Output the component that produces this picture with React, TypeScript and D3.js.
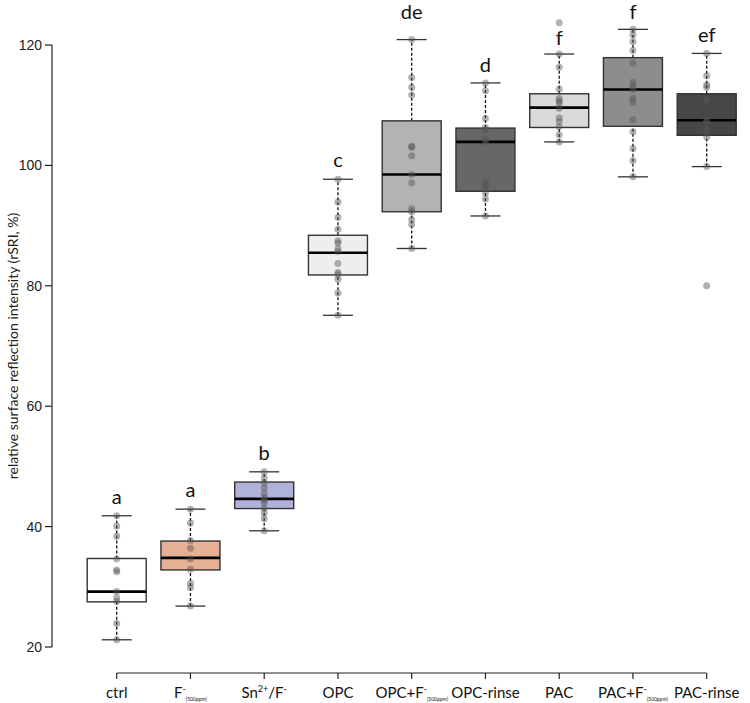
import React from "react";
import * as d3 from "d3";

const categories = ["ctrl", "F500", "Sn", "OPC", "OPC+F", "OPC-rinse", "PAC", "PAC+F", "PAC-rinse"];
const fills = ["#ffffff", "#e6b094", "#b1b2d9", "#eeeeee", "#b3b3b3", "#676767", "#d9d9d9", "#8d8d8d", "#474747"];
const letters = ["a", "a", "b", "c", "de", "d", "f", "f", "ef"];
const letterValues = [43.8, 44.9, 51.1, 99.7, 124.3, 115.5, 120.0, 124.3, 120.5];
const whiskerLow = [21.2, 26.8, 39.3, 75.1, 86.2, 91.6, 103.9, 98.1, 99.8];
const q1 = [27.5, 32.8, 43.0, 81.8, 92.3, 95.7, 106.3, 106.5, 105.0];
const medians = [29.2, 34.8, 44.6, 85.5, 98.5, 103.9, 109.6, 112.6, 107.5];
const q3 = [34.7, 37.6, 47.4, 88.4, 107.4, 106.2, 111.9, 117.9, 111.9];
const whiskerHigh = [41.8, 42.9, 49.1, 97.7, 120.9, 113.7, 118.5, 122.6, 118.6];
const points: number[][] = [
  [41.8, 40.1, 38.4, 34.6, 32.8, 32.5, 29.2, 28.2, 27.6, 23.9, 21.2],
  [42.9, 40.6, 37.7, 36.4, 34.6, 32.9, 30.6, 29.9, 26.8],
  [49.1, 48.1, 47.3, 46.4, 45.5, 44.8, 44.4, 43.9, 43.0, 42.2, 41.3, 39.3],
  [97.7, 93.9, 91.4, 89.4, 87.5, 87.1, 86.2, 85.7, 83.7, 82.2, 81.9, 81.1, 78.8, 75.1],
  [120.9, 114.6, 113.0, 111.7, 103.2, 103.0, 101.6, 98.5, 97.1, 92.8, 92.3, 91.0, 90.2, 86.2],
  [113.7, 112.4, 107.8, 106.3, 105.9, 104.3, 103.9, 97.4, 96.9, 96.4, 95.4, 94.4, 91.6],
  [123.7, 118.5, 116.3, 112.7, 111.1, 110.7, 110.3, 109.5, 107.9, 107.3, 106.4, 105.1, 103.9],
  [122.6, 121.7, 120.6, 119.1, 117.0, 113.8, 113.2, 112.6, 111.1, 110.5, 107.6, 105.6, 102.8, 100.8, 98.1],
  [118.6, 114.9, 113.4, 113.0, 111.0, 110.6, 107.5, 107.3, 106.0, 105.6, 104.7, 99.8, 80.0],
];
const yTicks = [20, 40, 60, 80, 100, 120];

const W = 750, H = 703;
const font = "Lato, 'Open Sans', sans-serif";

function XLabel({ cat, x, y }: { cat: string; x: number; y: number }) {
  const common = { x, y, textAnchor: "middle" as const, fontFamily: font, fontSize: 15, fill: "#111" };
  const sup = { fontSize: 9, baselineShift: "6" } as any;
  const sub = { fontSize: 5, baselineShift: "-3" } as any;
  if (cat === "F500")
    return (
      <text {...common}>
        F<tspan {...sup}>-</tspan><tspan {...sub}>(500ppm)</tspan>
      </text>
    );
  if (cat === "Sn")
    return (
      <text {...common}>
        Sn<tspan {...sup}>2+</tspan><tspan>/F</tspan><tspan {...sup}>-</tspan>
      </text>
    );
  if (cat === "OPC+F" || cat === "PAC+F")
    return (
      <text {...common}>
        {cat.slice(0, 5)}<tspan {...sup}>-</tspan><tspan {...sub}>(500ppm)</tspan>
      </text>
    );
  return <text {...common}>{cat}</text>;
}

export default function App() {
  const y = d3.scaleLinear().domain([20, 120]).range([647, 45]);
  const x = d3.scalePoint<string>().domain(categories).range([116.7, 706.7]);
  const step = x.step();
  const bw = step * 0.8;
  const capW = 30;
  const axisX = 52;
  const axisY = 673;

  return (
    <svg width={W} height={H} style={{ position: "absolute", left: 0, top: 0, background: "#fff" }}>
      {/* y axis */}
      <line x1={axisX} x2={axisX} y1={y(20)} y2={y(120)} stroke="#222" strokeWidth={1.2} />
      {yTicks.map((t) => (
        <g key={t}>
          <line x1={axisX - 7} x2={axisX} y1={y(t)} y2={y(t)} stroke="#222" strokeWidth={1.2} />
          <text x={axisX - 10} y={y(t)} dy="0.35em" textAnchor="end" fontFamily="'Liberation Sans', Arial, sans-serif" fontSize={14} fill="#222">
            {t}
          </text>
        </g>
      ))}
      <text
        transform={`translate(13,${(y(20) + y(120)) / 2}) rotate(-90)`}
        textAnchor="middle"
        dy="0.35em"
        fontFamily={font}
        fontSize={14}
        fill="#222"
      >
        relative surface reflection intensity (rSRI, %)
      </text>

      {/* x axis */}
      <line x1={x(categories[0])!} x2={x(categories[categories.length - 1])!} y1={axisY} y2={axisY} stroke="#222" strokeWidth={1.2} />
      {categories.map((c) => (
        <g key={c}>
          <line x1={x(c)!} x2={x(c)!} y1={axisY} y2={axisY + 6} stroke="#222" strokeWidth={1.2} />
          <XLabel cat={c} x={x(c)!} y={698} />
        </g>
      ))}

      {/* boxes */}
      {categories.map((c, i) => {
        const cx = x(c)!;
        return (
          <g key={c}>
            <line x1={cx} x2={cx} y1={y(whiskerLow[i])} y2={y(q1[i])} stroke="#111" strokeWidth={1.3} strokeDasharray="3,2" />
            <line x1={cx} x2={cx} y1={y(q3[i])} y2={y(whiskerHigh[i])} stroke="#111" strokeWidth={1.3} strokeDasharray="3,2" />
            <line x1={cx - capW / 2} x2={cx + capW / 2} y1={y(whiskerLow[i])} y2={y(whiskerLow[i])} stroke="#333" strokeWidth={1.3} />
            <line x1={cx - capW / 2} x2={cx + capW / 2} y1={y(whiskerHigh[i])} y2={y(whiskerHigh[i])} stroke="#333" strokeWidth={1.3} />
            <rect x={cx - bw / 2} width={bw} y={y(q3[i])} height={y(q1[i]) - y(q3[i])} fill={fills[i]} stroke="#333" strokeWidth={1.4} />
            <line x1={cx - bw / 2} x2={cx + bw / 2} y1={y(medians[i])} y2={y(medians[i])} stroke="#000" strokeWidth={2.6} />
            {points[i].map((v, j) => (
              <circle key={j} cx={cx} cy={y(v)} r={3.5} fill="#555" fillOpacity={0.45} />
            ))}
            <text x={cx} y={y(letterValues[i])} textAnchor="middle" fontFamily={font} fontSize={20} fill="#111">
              {letters[i]}
            </text>
          </g>
        );
      })}
    </svg>
  );
}
